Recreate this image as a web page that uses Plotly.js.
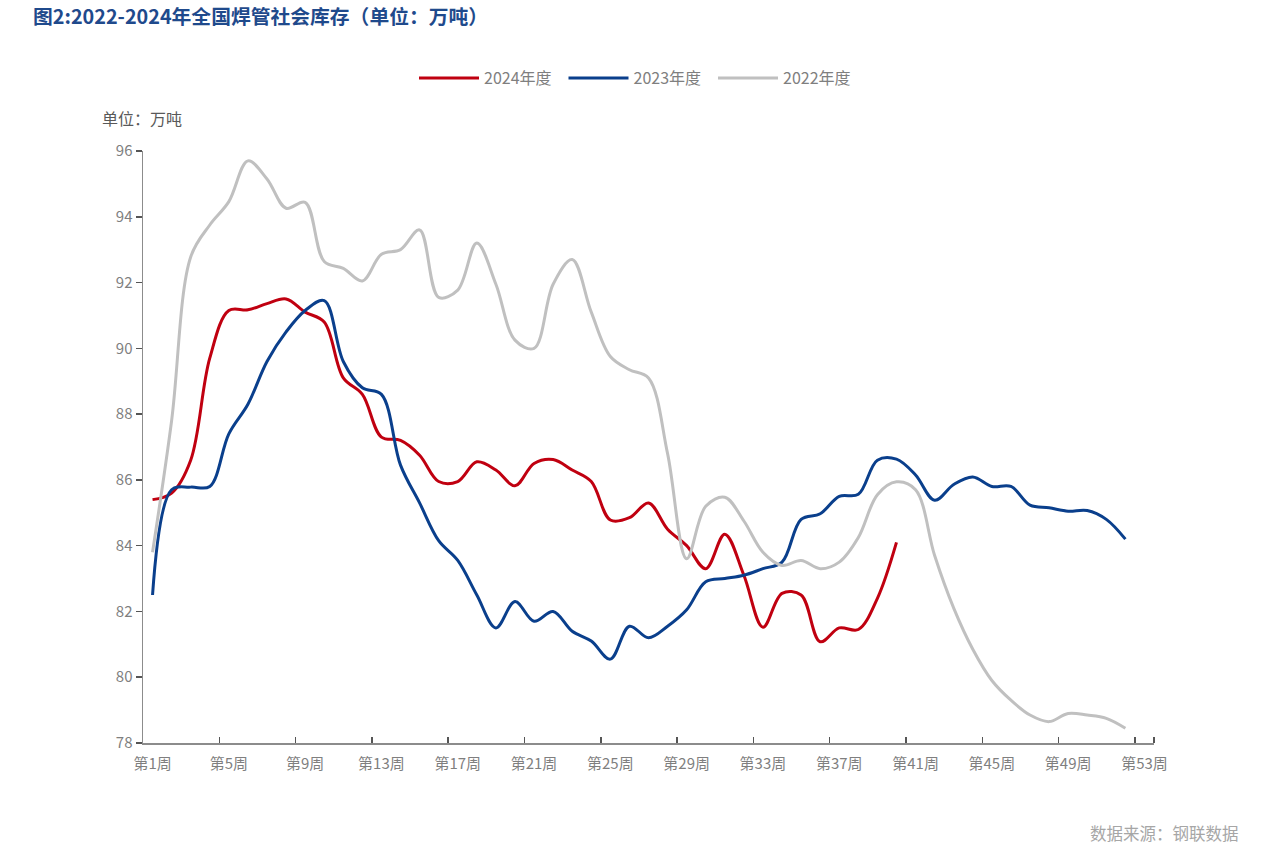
<!DOCTYPE html>
<html>
<head>
<meta charset="utf-8">
<script src="https://cdn.plot.ly/plotly-3.0.1.min.js"></script>
<style>
  html, body { margin: 0; padding: 0; background: #ffffff; }
  #chart { width: 1268px; height: 857px; }
</style>
</head>
<body>
<div id="chart"></div>
<script>
// ---- data ----
const weeks = [1,2,3,4,5,6,7,8,9,10,11,12,13,14,15,16,17,18,19,20,21,22,23,24,25,26,
               27,28,29,30,31,32,33,34,35,36,37,38,39,40,41,42,43,44,45,46,47,48,49,50,51,52];

const series2024 = [85.4, 85.6, 86.6, 89.7, 91.15, 91.17, 91.36, 91.5, 91.1, 90.8,
                    89.1, 88.6, 87.3, 87.2, 86.75, 85.95, 85.95, 86.55, 86.3, 85.82,
                    86.5, 86.62, 86.3, 85.95, 84.78, 84.85, 85.3, 84.5, 84.0, 83.3,
                    84.35, 83.1, 81.52, 82.55, 82.5, 81.08, 81.5, 81.45, 82.4, 84.1];

const series2023 = [82.5, 85.7, 85.78, 85.8, 87.4, 88.3, 89.6, 90.5, 91.15, 91.45,
                    89.6, 88.8, 88.6, 86.45, 85.3, 84.15, 83.55, 82.5, 81.5, 82.3,
                    81.7, 82.0, 81.4, 81.1, 80.55, 81.55, 81.2, 81.55, 82.05, 82.9,
                    83.0, 83.1, 83.3, 83.5, 84.8, 84.97, 85.5, 85.56, 86.6, 86.63,
                    86.15, 85.38, 85.86, 86.09, 85.8, 85.8, 85.23, 85.15, 85.05, 85.07,
                    84.8, 84.2];

const series2022 = [83.8, 87.8, 92.78, 93.75, 94.46, 95.7, 95.15, 94.26, 94.44, 92.64,
                    92.43, 92.05, 92.86, 93.0, 93.6, 91.55, 91.77, 93.2, 91.95, 90.25,
                    90.0, 91.95, 92.7, 91.1, 89.75, 89.35, 89.1, 86.8, 83.6, 85.2,
                    85.47, 84.75, 83.8, 83.4, 83.55, 83.3, 83.5, 84.25, 85.55, 85.94,
                    85.7, 83.7, 82.1, 80.85, 79.9, 79.3, 78.85, 78.65, 78.9, 78.85,
                    78.75, 78.45];

const seriesNames = ["2024年度", "2023年度", "2022年度"];

const tickWeeks = [1, 5, 9, 13, 17, 21, 25, 29, 33, 37, 41, 45, 49, 53];
const tickLabels = ["第1周","第5周","第9周","第13周","第17周","第21周","第25周",
                    "第29周","第33周","第37周","第41周","第45周","第49周","第53周"];
const boundaryTicks = [4.5, 8.5, 12.5, 16.5, 20.5, 24.5, 28.5, 32.5, 36.5, 40.5, 44.5, 48.5, 52.5, 53.5];

const yTicks = [78, 80, 82, 84, 86, 88, 90, 92, 94, 96];

// ---- chart ----
const FONT = '"Noto Sans CJK SC", "Noto Sans", sans-serif';
const GREY_TEXT = '#7f7f7f';
const AXIS = '#8c8c8c';

function lineTrace(y, name, color) {
  return {
    x: weeks.slice(0, y.length),
    y: y,
    name: name,
    type: 'scatter',
    mode: 'lines',
    line: { color: color, width: 3, shape: 'spline', smoothing: 1 },
    hoverinfo: 'x+y'
  };
}

const traces = [
  lineTrace(series2024, seriesNames[0], '#c00010'),
  lineTrace(series2023, seriesNames[1], '#0a3f8c'),
  lineTrace(series2022, seriesNames[2], '#c0c0c0')
];

const layout = {
  width: 1268,
  height: 857,
  paper_bgcolor: '#ffffff',
  plot_bgcolor: '#ffffff',
  font: { family: FONT, color: GREY_TEXT, size: 14 },
  margin: { l: 143, r: 114, t: 151, b: 114 },
  title: {
    text: '<b>图2:2022-2024年全国焊管社会库存（单位：万吨）</b>',
    font: { family: FONT, size: 19.8, color: '#1f4a8c' },
    xref: 'container', yref: 'container',
    x: 33 / 1268, xanchor: 'left',
    y: 1 - 17 / 857, yanchor: 'middle'
  },
  showlegend: true,
  legend: {
    orientation: 'h',
    xref: 'container', yref: 'container',
    x: 414 / 1268, xanchor: 'left',
    y: 1 - 78 / 857, yanchor: 'middle',
    font: { family: FONT, size: 16, color: GREY_TEXT },
    itemwidth: 60,
    entrywidth: 74.5,
    entrywidthmode: 'pixels',
    tracegroupgap: 0
  },
  xaxis: {
    range: [0.5, 53.5],
    tickmode: 'array',
    tickvals: tickWeeks,
    ticktext: tickLabels,
    ticks: '',
    ticklabelstandoff: 6,
    tickfont: { family: FONT, size: 15, color: GREY_TEXT },
    showgrid: false,
    zeroline: false,
    showline: true,
    linecolor: AXIS,
    linewidth: 1.5,
    fixedrange: true,
    minor: {
      tickmode: 'array',
      tickvals: boundaryTicks,
      ticks: 'inside',
      ticklen: 6,
      tickwidth: 1.5,
      tickcolor: '#555555',
      showgrid: false
    }
  },
  yaxis: {
    range: [78, 96],
    tickmode: 'array',
    tickvals: yTicks,
    ticks: 'outside',
    ticklen: 6,
    tickwidth: 1.5,
    tickcolor: '#555555',
    tickfont: { family: FONT, size: 15, color: GREY_TEXT },
    showgrid: false,
    zeroline: false,
    showline: true,
    linecolor: AXIS,
    linewidth: 1.5,
    fixedrange: true
  },
  annotations: [
    {
      text: '单位：万吨',
      xref: 'paper', yref: 'paper',
      x: (100 - 143) / (1268 - 143 - 114), xanchor: 'left',
      y: 1 + (151 - 118) / (857 - 151 - 114), yanchor: 'middle',
      showarrow: false,
      font: { family: FONT, size: 16, color: '#595959' }
    },
    {
      text: '数据来源：钢联数据',
      xref: 'paper', yref: 'paper',
      x: (1241 - 143) / (1268 - 143 - 114), xanchor: 'right',
      y: -(833 - 743) / (857 - 151 - 114), yanchor: 'middle',
      showarrow: false,
      font: { family: FONT, size: 16.5, color: '#a6a6a6' }
    }
  ]
};

Plotly.newPlot('chart', traces, layout, { displayModeBar: false, staticPlot: true });
</script>
</body>
</html>
